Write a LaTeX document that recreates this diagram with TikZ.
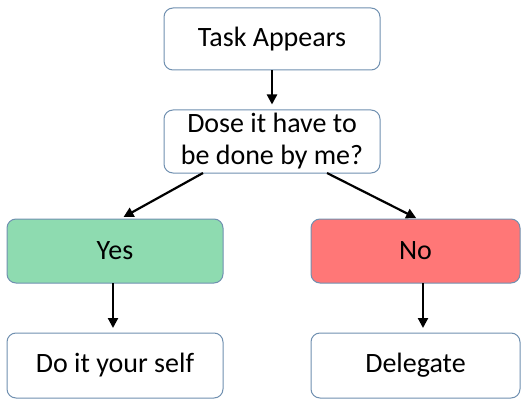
\documentclass[tikz,border=0pt]{standalone}
\usepackage{fontspec}
\setmainfont{Carlito}
\usetikzlibrary{arrows.meta}
\definecolor{bordc}{HTML}{7090B0}
\definecolor{yesc}{HTML}{8EDBB0}
\definecolor{noc}{HTML}{FF7777}
\tikzset{
  box/.style={draw=bordc, line width=1pt, rounded corners=9pt, fill=white, inner sep=0pt, align=center, font=\fontsize{28}{32}\selectfont},
  conn/.style={line width=2.2pt, -{Triangle[length=10pt,width=10pt]}, shorten >=5pt}
}
\begin{document}
\begin{tikzpicture}[x=1pt,y=-1pt]
\useasboundingbox (0,0) rectangle (522,401);
\node[box, minimum width=216pt, minimum height=62pt] (task) at (272,39) {Task Appears};
\node[box, minimum width=216pt, minimum height=63pt] (dose) at (272,141.5) {Dose it have to\\be done by me?};
\node[box, fill=yesc, minimum width=216pt, minimum height=64pt] (yes) at (115,251) {Yes};
\node[box, fill=noc, minimum width=209pt, minimum height=64pt] (no) at (415.5,251) {No};
\node[box, minimum width=216pt, minimum height=65pt] (do) at (115,365.5) {Do it your self};
\node[box, minimum width=209pt, minimum height=65pt] (del) at (415.5,365.5) {Delegate};
\draw[conn] (task.south) -- (dose.north);
\draw[conn, shorten >=4pt] (203,173) -- (120,219);
\draw[conn, shorten >=2pt] (327,173) -- (418,219);
\draw[conn] (113,283) -- (113,333);
\draw[conn] (423,283) -- (423,333);
\end{tikzpicture}
\end{document}
